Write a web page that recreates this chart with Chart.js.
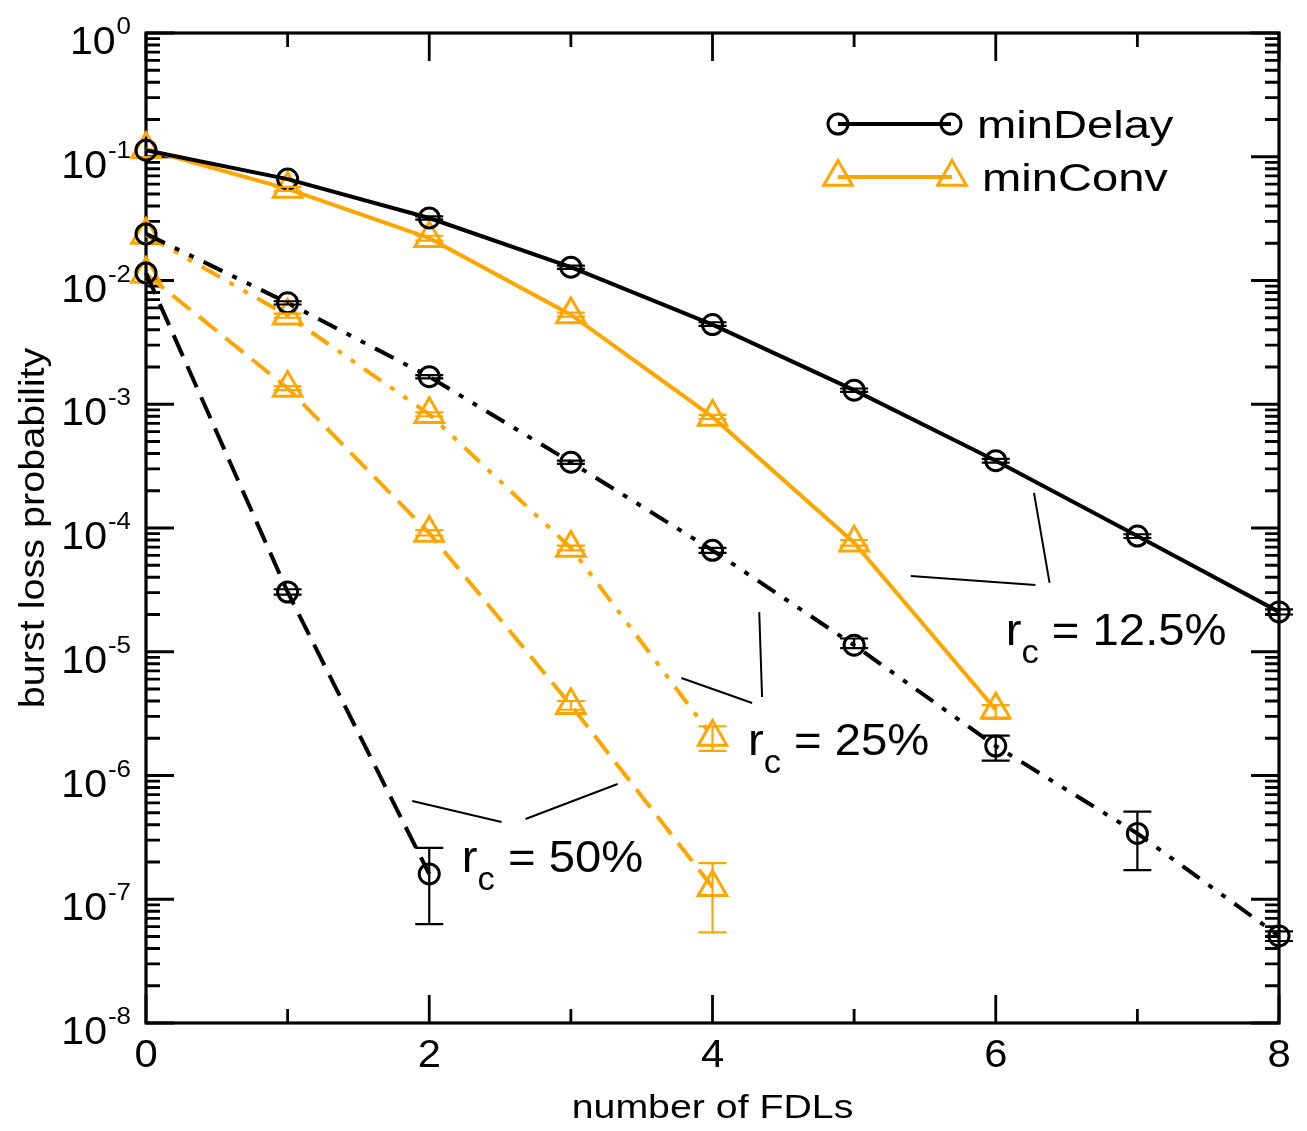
<!DOCTYPE html>
<html>
<head>
<meta charset="utf-8">
<script src="https://cdn.jsdelivr.net/npm/chart.js@4.4.1/dist/chart.umd.min.js"></script>
<style>
  html, body { margin: 0; padding: 0; background: #fff; }
  canvas { display: block; }
</style>
</head>
<body>
<canvas id="lossChart" width="1307" height="1131"></canvas>
<script>
// number of FDLs
var fdls = [0, 1, 2, 3, 4, 5, 6, 7, 8];

// minDelay, burst loss probability for r_c = 12.5%, 25%, 50%
var delay125 = [0.113, 0.066, 0.032, 0.0128, 0.0044, 0.0013, 0.00035, 8.6e-5, 2.1e-5];
var delay125Lo = [null, null, 0.031, 0.0124, 0.0043, 0.00126, 0.000338, 8.3e-5, 2.0e-5];
var delay125Hi = [null, null, 0.033, 0.0132, 0.0046, 0.00134, 0.000362, 8.9e-5, 2.2e-5];

var delay25 = [0.0238, 0.0066, 0.00167, 3.4e-4, 6.6e-5, 1.13e-5, 1.73e-6, 3.4e-7, 5.05e-8];
var delay25Lo = [null, 0.0064, 0.00162, 3.3e-4, 6.3e-5, 1.07e-5, 1.32e-6, 1.72e-7, 4.6e-8];
var delay25Hi = [null, 0.0068, 0.00172, 3.5e-4, 6.9e-5, 1.28e-5, 2.1e-6, 5.1e-7, 5.5e-8];

var delay50 = [0.0115, 3.04e-5, 1.6e-7];
var delay50Lo = [null, 2.9e-5, 6.3e-8];
var delay50Hi = [null, 3.2e-5, 2.6e-7];

// minConv, burst loss probability for r_c = 12.5%, 25%, 50%
var conv125 = [0.115, 0.055, 0.022, 0.0053, 7.9e-4, 7.6e-5, 3.4e-6];
var conv125Lo = [null, 0.053, 0.021, 0.0051, 7.6e-4, 7.2e-5, 2.86e-6];
var conv125Hi = [null, 0.057, 0.023, 0.0055, 8.2e-4, 8.0e-5, 3.7e-6];

var conv25 = [0.0233, 0.0052, 8.3e-4, 6.9e-5, 2.05e-6];
var conv25Lo = [null, 0.005, 8.0e-4, 6.6e-5, 1.58e-6];
var conv25Hi = [null, 0.0054, 8.6e-4, 7.2e-5, 2.5e-6];

var conv50 = [0.0113, 0.00135, 9.1e-5, 3.7e-6, 1.25e-7];
var conv50Lo = [null, 0.0013, 8.7e-5, 3.4e-6, 5.4e-8];
var conv50Hi = [null, 0.0014, 9.6e-5, 4.0e-6, 1.96e-7];

// axis ticks
var xMajorTicks = [0, 2, 4, 6, 8];
var xMinorTicks = [1, 3, 5, 7];
var yDecades = [-8, -7, -6, -5, -4, -3, -2, -1, 0];
var yTickExponents = ['-8', '-7', '-6', '-5', '-4', '-3', '-2', '-1', '0'];

// r_c labels and their leader lines, in data units (x, y)
var rcTexts = ['= 12.5%', '= 25%', '= 50%'];
var rcAnchors = [[6.07, 1.13e-5], [4.25, 1.47e-6], [2.23, 1.66e-7]];
var rcLeaders = [
  [[[6.27, 1.92e-4], [6.38, 3.6e-5]], [[5.40, 4.09e-5], [6.28, 3.46e-5]]],
  [[[4.33, 2.09e-5], [4.35, 4.31e-6]], [[3.78, 6.14e-6], [4.28, 3.85e-6]]],
  [[[1.88, 6.22e-7], [2.51, 4.21e-7]], [[2.68, 4.45e-7], [3.33, 8.53e-7]]]
];

var BLACK = '#000000';
var ORANGE = '#ffa500';
var DASH_DOT_DOT = [21, 11, 5, 11, 5, 11];
var DASHED = [23, 11];
var FONT = '"Liberation Sans", Arial, Helvetica, sans-serif';

function series(label, values, lo, hi, color, dash, style) {
  return {
    label: label,
    data: values.map(function (v, i) { return { x: fdls[i], y: v }; }),
    errLow: lo,
    errHigh: hi,
    borderColor: color,
    borderWidth: 4,
    borderDash: dash,
    borderCapStyle: 'butt',
    pointStyle: style,
    pointRadius: style === 'circle' ? 10 : 16.5,
    pointBorderWidth: 3,
    pointBorderColor: color,
    pointBackgroundColor: 'rgba(0,0,0,0)',
    fill: false,
    tension: 0,
    clip: false
  };
}

// text drawn with a horizontal stretch factor sx
function stretchText(ctx, str, x, y, size, sx, align) {
  ctx.font = size + 'px ' + FONT;
  var w = ctx.measureText(str).width * sx;
  var left = align === 'center' ? x - w / 2 : (align === 'right' ? x - w : x);
  ctx.save();
  ctx.translate(left, y);
  ctx.scale(sx, 1);
  ctx.textAlign = 'left';
  ctx.textBaseline = 'alphabetic';
  ctx.fillText(str, 0, 0);
  ctx.restore();
  return w;
}

function textWidth(ctx, str, size, sx) {
  ctx.font = size + 'px ' + FONT;
  return ctx.measureText(str).width * sx;
}

// box frame with inward ticks on all four sides
var framePlugin = {
  id: 'frame',
  beforeDatasetsDraw: function (chart) {
    var ctx = chart.ctx, a = chart.chartArea;
    var xs = chart.scales.x, ys = chart.scales.y;
    ctx.save();
    ctx.strokeStyle = BLACK;
    ctx.lineWidth = 2.8;
    ctx.beginPath();
    xMajorTicks.concat(xMinorTicks).forEach(function (v) {
      var len = xMajorTicks.indexOf(v) >= 0 ? 28 : 14;
      var px = xs.getPixelForValue(v);
      ctx.moveTo(px, a.bottom); ctx.lineTo(px, a.bottom - len);
      ctx.moveTo(px, a.top); ctx.lineTo(px, a.top + len);
    });
    yDecades.forEach(function (d) {
      var py = ys.getPixelForValue(Math.pow(10, d));
      ctx.moveTo(a.left, py); ctx.lineTo(a.left + 28, py);
      ctx.moveTo(a.right, py); ctx.lineTo(a.right - 28, py);
      if (d < 0) {
        for (var m = 2; m <= 9; m++) {
          var pm = ys.getPixelForValue(m * Math.pow(10, d));
          ctx.moveTo(a.left, pm); ctx.lineTo(a.left + 14, pm);
          ctx.moveTo(a.right, pm); ctx.lineTo(a.right - 14, pm);
        }
      }
    });
    ctx.stroke();
    ctx.lineWidth = 3.2;
    ctx.strokeRect(a.left, a.top, a.right - a.left, a.bottom - a.top);
    ctx.restore();
  }
};

// vertical error bars with caps
var errorBarPlugin = {
  id: 'errorBars',
  afterDatasetsDraw: function (chart) {
    var ctx = chart.ctx, ys = chart.scales.y;
    ctx.save();
    ctx.lineWidth = 2.2;
    for (var i = chart.data.datasets.length - 1; i >= 0; i--) {
      var ds = chart.data.datasets[i];
      var meta = chart.getDatasetMeta(i);
      ctx.strokeStyle = ds.borderColor;
      ctx.beginPath();
      ds.errLow.forEach(function (lo, j) {
        if (lo === null) return;
        var px = meta.data[j].x;
        var yl = ys.getPixelForValue(lo);
        var yh = ys.getPixelForValue(ds.errHigh[j]);
        ctx.moveTo(px, yl); ctx.lineTo(px, yh);
        ctx.moveTo(px - 14, yl); ctx.lineTo(px + 14, yl);
        ctx.moveTo(px - 14, yh); ctx.lineTo(px + 14, yh);
      });
      ctx.stroke();
    }
    ctx.restore();
  }
};

// tick labels, axis titles, legend and r_c annotations
var textPlugin = {
  id: 'texts',
  afterDraw: function (chart) {
    var ctx = chart.ctx, a = chart.chartArea;
    var xs = chart.scales.x, ys = chart.scales.y;
    ctx.save();
    ctx.fillStyle = BLACK;

    // y tick labels 10^n
    yDecades.forEach(function (d, i) {
      var py = ys.getPixelForValue(Math.pow(10, d));
      var exp = yTickExponents[i];
      var we = textWidth(ctx, exp, 24, 1.08);
      var wb = textWidth(ctx, '10', 38, 1.08);
      var right = a.left - 15;
      stretchText(ctx, '10', right - we - wb - 1, py + 21, 38, 1.08, 'left');
      stretchText(ctx, exp, right - we, py + 1, 24, 1.08, 'left');
    });

    // x tick labels
    xMajorTicks.forEach(function (v) {
      stretchText(ctx, String(v), xs.getPixelForValue(v), a.bottom + 44, 38, 1.1, 'center');
    });

    // axis titles
    stretchText(ctx, 'number of FDLs', (a.left + a.right) / 2, 1118, 33, 1.19, 'center');
    ctx.save();
    ctx.translate(44, (a.top + a.bottom) / 2);
    ctx.rotate(-Math.PI / 2);
    stretchText(ctx, 'burst loss probability', 0, 0, 35, 1.13, 'center');
    ctx.restore();

    // leader lines and r_c labels
    ctx.strokeStyle = BLACK;
    ctx.lineWidth = 2;
    ctx.beginPath();
    rcLeaders.forEach(function (pair) {
      pair.forEach(function (seg) {
        ctx.moveTo(xs.getPixelForValue(seg[0][0]), ys.getPixelForValue(seg[0][1]));
        ctx.lineTo(xs.getPixelForValue(seg[1][0]), ys.getPixelForValue(seg[1][1]));
      });
    });
    ctx.stroke();
    rcAnchors.forEach(function (p, i) {
      var x = xs.getPixelForValue(p[0]);
      var y = ys.getPixelForValue(p[1]);
      x += stretchText(ctx, 'r', x, y, 45, 1.05, 'left');
      x += stretchText(ctx, 'c', x, y + 18, 33, 1.05, 'left');
      stretchText(ctx, ' ' + rcTexts[i], x, y, 45, 1.05, 'left');
    });

    // legend
    ctx.lineWidth = 4;
    ctx.strokeStyle = BLACK;
    ctx.beginPath();
    ctx.moveTo(838, 124); ctx.lineTo(951, 124);
    ctx.stroke();
    ctx.lineWidth = 3;
    [838, 951].forEach(function (cx) {
      ctx.beginPath();
      ctx.arc(cx, 124, 10, 0, Math.PI * 2);
      ctx.stroke();
    });
    ctx.lineWidth = 4;
    ctx.strokeStyle = ORANGE;
    ctx.beginPath();
    ctx.moveTo(838, 177); ctx.lineTo(952, 177);
    ctx.stroke();
    ctx.lineWidth = 3;
    [838, 952].forEach(function (cx) {
      var r = 16.5;
      ctx.beginPath();
      ctx.moveTo(cx, 177 - r);
      ctx.lineTo(cx + 0.866 * r, 177 + 0.5 * r);
      ctx.lineTo(cx - 0.866 * r, 177 + 0.5 * r);
      ctx.closePath();
      ctx.stroke();
    });
    ctx.fillStyle = BLACK;
    stretchText(ctx, 'minDelay', 977, 138, 38, 1.24, 'left');
    stretchText(ctx, 'minConv', 982, 191, 38, 1.24, 'left');
    ctx.restore();
  }
};

var ctx = document.getElementById('lossChart').getContext('2d');
var chart = new Chart(ctx, {
  type: 'line',
  data: {
    datasets: [
      series('minDelay 12.5%', delay125, delay125Lo, delay125Hi, BLACK, [], 'circle'),
      series('minDelay 25%', delay25, delay25Lo, delay25Hi, BLACK, DASH_DOT_DOT, 'circle'),
      series('minDelay 50%', delay50, delay50Lo, delay50Hi, BLACK, DASHED, 'circle'),
      series('minConv 12.5%', conv125, conv125Lo, conv125Hi, ORANGE, [], 'triangle'),
      series('minConv 25%', conv25, conv25Lo, conv25Hi, ORANGE, DASH_DOT_DOT, 'triangle'),
      series('minConv 50%', conv50, conv50Lo, conv50Hi, ORANGE, DASHED, 'triangle')
    ]
  },
  options: {
    responsive: false,
    animation: false,
    devicePixelRatio: 1,
    layout: { padding: { left: 146, right: 28, top: 33, bottom: 108 } },
    plugins: { legend: { display: false }, tooltip: { enabled: false } },
    scales: {
      x: { type: 'linear', min: 0, max: 8, display: false },
      y: { type: 'logarithmic', min: 1e-8, max: 1, display: false }
    }
  },
  plugins: [framePlugin, errorBarPlugin, textPlugin]
});
</script>
</body>
</html>
